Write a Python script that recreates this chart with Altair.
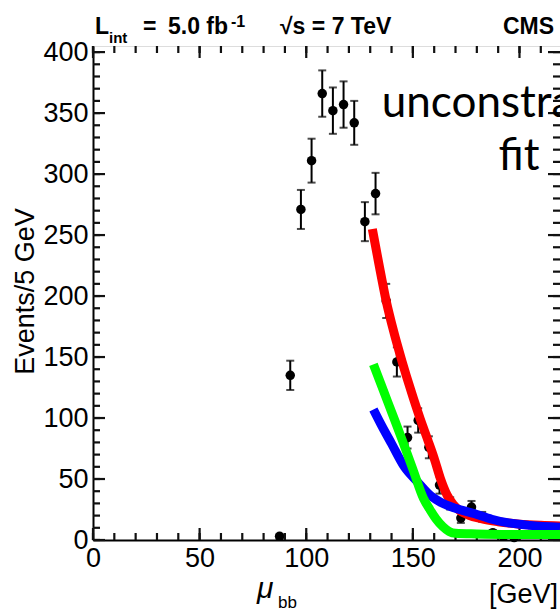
import altair as alt
import pandas as pd

# ---- data ----
mass = [87.5, 92.5, 97.5, 102.5, 107.5, 112.5, 117.5, 122.5, 127.5, 132.5,
        137.5, 142.5, 147.5, 152.5, 157.5, 162.5, 167.5, 172.5, 177.5, 182.5,
        187.5, 192.5, 197.5]
events = [3, 135, 271, 311, 366, 352, 357, 342, 261, 284,
          196, 146, 84, 98, 76, 45, 30, 18, 27, 19,
          6, 3, 2]
errors = [2, 12, 16, 18, 19, 19, 19, 18, 16, 17,
          14, 12, 9, 10, 9, 7, 5, 4, 5, 4,
          2, 2, 1]

red_x = [131, 134, 137.5, 141, 145, 149, 153.5, 157, 160, 163, 166, 169, 172, 176, 182, 190, 200, 210, 219]
red_y = [255, 227, 196, 171, 146, 123, 99, 82, 67, 50, 37, 29, 24, 20.5, 17.5, 15, 13, 12, 11.5]

blue_x = [131.5, 135, 140, 146, 152, 158.5, 163, 170, 179, 187, 195, 205, 219]
blue_y = [107, 95, 79, 60, 48, 36, 31, 26, 21.5, 17, 14, 12, 10.5]

green_x = [131.5, 135, 140, 145, 150, 155, 158, 161, 164, 167, 170, 180, 200, 219]
green_y = [144, 128, 105, 82, 58, 34, 25, 17, 11, 7, 5.5, 5, 4.5, 4.5]

x_labels = [0, 50, 100, 150, 200]
x_minor = list(range(0, 220, 10))
y_labels = [0, 50, 100, 150, 200, 250, 300, 350, 400]
y_minor = list(range(0, 410, 10))

W, H = 467, 494
X0, X1 = 0, 219
Y0, Y1 = 0, 405
FONT = "Liberation Sans"
MAJ, MIN = 12, 7          # tick lengths in pixels
PXX = W / (X1 - X0)       # pixels per x unit
PXY = H / (Y1 - Y0)       # pixels per y unit
TICK_COLOR = "#111111"

pts = pd.DataFrame({"m": mass, "n": events, "e": errors})
pts["lo"] = pts["n"] - pts["e"]
pts["hi"] = pts["n"] + pts["e"]
red = pd.DataFrame({"m": red_x, "n": red_y})
blue = pd.DataFrame({"m": blue_x, "n": blue_y})
green = pd.DataFrame({"m": green_x, "n": green_y})

xscale = alt.Scale(domain=[X0, X1], nice=False, zero=False)
yscale = alt.Scale(domain=[Y0, Y1], nice=False, zero=False)

x_axis = alt.Axis(values=x_labels, ticks=False, labelPadding=5,
                  labelFont=FONT, labelFontSize=27, labelColor="black",
                  labelFlush=False, labelOverlap=False, domain=True,
                  domainColor="black", domainWidth=2, title=None, grid=False)
y_axis = alt.Axis(values=y_labels, ticks=False, labelPadding=5,
                  labelFont=FONT, labelFontSize=27, labelColor="black",
                  labelFlush=False, labelOverlap=False, domain=True,
                  domainColor="black", domainWidth=2,
                  title="Events/5 GeV", titleFont=FONT, titleFontSize=27,
                  titleFontWeight="normal", titleColor="black",
                  titleAngle=270, titleAlign="center", titleBaseline="alphabetic",
                  titleX=-60, titleY=245, grid=False)

points = alt.Chart(pts).mark_circle(size=90, color="black", opacity=1).encode(
    x=alt.X("m:Q", scale=xscale, axis=x_axis),
    y=alt.Y("n:Q", scale=yscale, axis=y_axis),
)
bars = alt.Chart(pts).mark_rule(color="black", strokeWidth=2).encode(
    x="m:Q", y="lo:Q", y2="hi:Q")
caps_lo = alt.Chart(pts).mark_tick(orient="horizontal", size=8, thickness=2, color="black").encode(
    x="m:Q", y="lo:Q")
caps_hi = alt.Chart(pts).mark_tick(orient="horizontal", size=8, thickness=2, color="black").encode(
    x="m:Q", y="hi:Q")


def line(df, color):
    return alt.Chart(df).mark_line(color=color, strokeWidth=9, interpolate="monotone").encode(
        x="m:Q", y="n:Q")


# inward frame ticks (ROOT style), built from the tick value lists
def xtick_layer(values, size, side):
    d = size / PXY
    if side == "bottom":
        a, b = Y0, Y0 + d
    else:
        a, b = Y1 - d, Y1
    df = pd.DataFrame({"tx": values, "ta": a, "tb": b})
    return alt.Chart(df).mark_rule(color=TICK_COLOR, strokeWidth=2.2).encode(
        x="tx:Q", y="ta:Q", y2="tb:Q")


def ytick_layer(values, size, side):
    d = size / PXX
    if side == "left":
        a, b = X0, X0 + d
    else:
        a, b = X1 - d, X1
    df = pd.DataFrame({"ty": values, "ta": a, "tb": b})
    return alt.Chart(df).mark_rule(color=TICK_COLOR, strokeWidth=2.2).encode(
        y="ty:Q", x="ta:Q", x2="tb:Q")


ticks = [
    xtick_layer(x_minor, MIN, "bottom"), xtick_layer(x_labels, MAJ, "bottom"),
    xtick_layer(x_minor, MIN, "top"), xtick_layer(x_labels, MAJ, "top"),
    ytick_layer(y_minor, MIN, "left"), ytick_layer(y_labels, MAJ, "left"),
    ytick_layer(y_minor, MIN, "right"), ytick_layer(y_labels, MAJ, "right"),
]


def txt(s, x, y, size, weight="normal", style="normal", font=FONT, align="left"):
    return alt.Chart(pd.DataFrame({"t": [s]})).mark_text(
        font=font, fontSize=size, fontWeight=weight, fontStyle=style,
        align=align, baseline="alphabetic", color="black"
    ).encode(x=alt.value(x), y=alt.value(y), text="t:N")


texts = [
    txt("L", 2, -12, 23, "bold"),
    txt("int", 16, -3, 15, "bold"),
    txt("=", 50, -12, 23, "bold"),
    txt("5.0 fb", 75, -12, 23, "bold"),
    txt("-1", 138, -19, 16, "bold"),
    txt("\u221as = 7 TeV", 187, -12, 23, "bold"),
    txt("CMS", 410, -12, 23, "bold"),
    txt("unconstrained", 426, 71, 44, font="Lato", align="center"),
    txt("fit", 426, 124, 44, font="Lato", align="center"),
    txt("\u03bc", 164, 552, 30, style="italic"),
    txt("bb", 185, 562, 17),
    txt("[GeV]", 396, 557, 27),
]

chart = alt.layer(
    points, *ticks, bars, caps_lo, caps_hi,
    line(red, "#ff0000"), line(blue, "#0000ff"), line(green, "#00ff00"),
    *texts
).properties(
    width=W, height=H,
    autosize=alt.AutoSizeParams(type="none"),
    padding={"left": 93, "top": 46, "right": 0, "bottom": 72},
    background="white",
)

chart.save("out.html", embed_options={"renderer": "svg", "actions": False})
